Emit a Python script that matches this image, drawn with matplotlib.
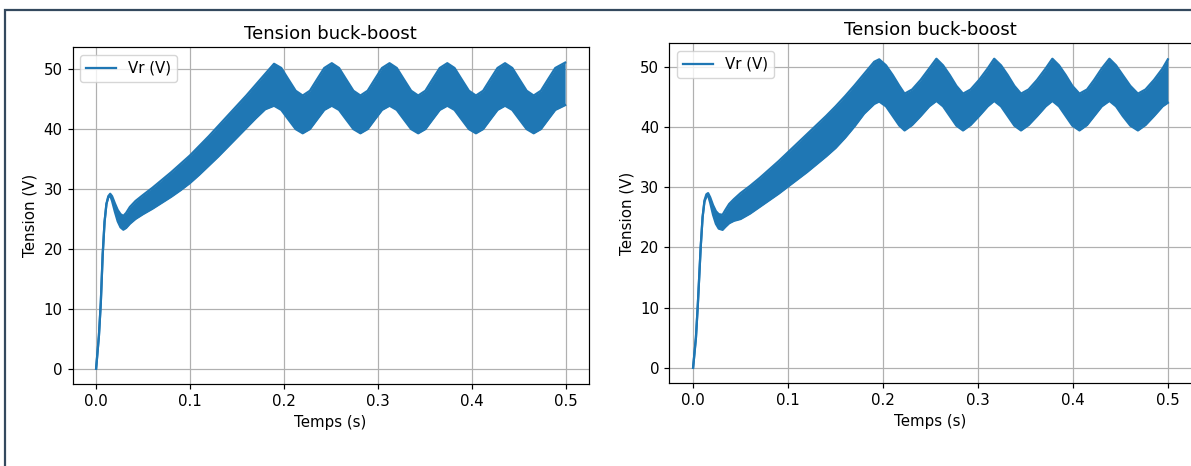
import matplotlib
matplotlib.use("Agg")
import matplotlib.pyplot as plt
from matplotlib.patches import Rectangle

# Vr envelope (max / min of the switching ripple), first run
t_a = [0.0, 0.003, 0.005, 0.007, 0.009, 0.011, 0.013, 0.015, 0.017, 0.020,
       0.023, 0.026, 0.029, 0.032, 0.036, 0.042, 0.050, 0.060, 0.070, 0.080,
       0.090, 0.100, 0.110, 0.120, 0.130, 0.140, 0.150, 0.160, 0.170, 0.180,
       0.1895, 0.1972, 0.2048, 0.2125, 0.2200, 0.2277, 0.2353, 0.2430,
       0.2510, 0.2587, 0.2663, 0.2740, 0.2815, 0.2892, 0.2968, 0.3045,
       0.3125, 0.3202, 0.3278, 0.3355, 0.3430, 0.3507, 0.3583, 0.3660,
       0.3740, 0.3817, 0.3893, 0.3970, 0.4045, 0.4122, 0.4198, 0.4275,
       0.4355, 0.4432, 0.4508, 0.4585, 0.4660, 0.4737, 0.4813, 0.4890,
       0.4995]
vmax_a = [0.0, 5.5, 11.0, 19.0, 24.5, 27.5, 28.8, 29.2, 28.8, 27.6,
          26.5, 25.8, 25.5, 26.0, 27.0, 28.0, 29.0, 30.2, 31.5, 32.8,
          34.2, 35.6, 37.2, 38.8, 40.5, 42.2, 43.9, 45.6, 47.4, 49.2,
          50.9, 50.2, 48.3, 46.4, 45.6, 46.4, 48.3, 50.2,
          51.0, 50.2, 48.3, 46.4, 45.6, 46.4, 48.3, 50.2,
          51.0, 50.2, 48.3, 46.4, 45.6, 46.4, 48.3, 50.2,
          51.0, 50.2, 48.3, 46.4, 45.6, 46.4, 48.3, 50.2,
          51.0, 50.2, 48.3, 46.4, 45.6, 46.4, 48.3, 50.2,
          51.1]
vmin_a = [0.0, 5.5, 11.0, 19.0, 24.5, 27.5, 28.6, 28.9, 28.0, 26.2,
          24.6, 23.6, 23.2, 23.5, 24.2, 25.0, 25.8, 26.7, 27.7, 28.7,
          29.8, 31.0, 32.4, 33.9, 35.4, 37.0, 38.6, 40.2, 41.8, 43.3,
          43.9, 43.2, 41.6, 40.0, 39.3, 40.0, 41.6, 43.2,
          43.9, 43.2, 41.6, 40.0, 39.3, 40.0, 41.6, 43.2,
          43.9, 43.2, 41.6, 40.0, 39.3, 40.0, 41.6, 43.2,
          43.9, 43.2, 41.6, 40.0, 39.3, 40.0, 41.6, 43.2,
          43.9, 43.2, 41.6, 40.0, 39.3, 40.0, 41.6, 43.2,
          44.0]

# second run
t_b = [0.0, 0.003, 0.005, 0.008, 0.010, 0.012, 0.014, 0.0158, 0.018, 0.021,
       0.024, 0.027, 0.031, 0.034, 0.038, 0.043, 0.050, 0.060, 0.070, 0.080,
       0.090, 0.100, 0.110, 0.120, 0.130, 0.140, 0.150, 0.160, 0.170, 0.180,
       0.1906, 0.1958, 0.203, 0.210, 0.217, 0.2225, 0.2305, 0.2395, 0.2485,
       0.2560, 0.263, 0.270, 0.277, 0.2840, 0.292, 0.301, 0.310,
       0.3168, 0.324, 0.331, 0.338, 0.3450, 0.353, 0.362, 0.371,
       0.3780, 0.385, 0.392, 0.399, 0.4065, 0.4145, 0.422, 0.430,
       0.4380, 0.445, 0.452, 0.460, 0.4680, 0.476, 0.485, 0.494,
       0.4995]
vmax_b = [0.0, 5.0, 10.5, 20.0, 25.0, 27.8, 28.8, 29.0, 28.3, 27.0,
          26.0, 25.5, 25.4, 26.2, 27.2, 28.0, 29.0, 30.2, 31.5, 32.9,
          34.3, 35.8, 37.3, 38.8, 40.3, 41.8, 43.4, 45.1, 46.9, 48.8,
          50.8, 51.2, 50.2, 48.6, 46.8, 45.5, 46.2, 47.8, 49.7,
          51.3, 50.2, 48.6, 46.8, 45.5, 46.2, 47.8, 49.7,
          51.3, 50.2, 48.6, 46.8, 45.5, 46.2, 47.8, 49.7,
          51.3, 50.2, 48.6, 46.8, 45.5, 46.2, 47.8, 49.7,
          51.3, 50.2, 48.6, 46.8, 45.5, 46.2, 47.8, 49.7,
          51.2]
vmin_b = [0.0, 5.0, 10.5, 20.0, 25.0, 27.6, 28.4, 28.6, 27.4, 25.4,
          23.9, 23.1, 22.9, 23.4, 24.0, 24.4, 24.7, 25.6, 26.7, 27.8,
          28.9, 30.1, 31.3, 32.5, 33.8, 35.1, 36.5, 38.2, 40.1, 42.2,
          43.8, 44.2, 43.4, 41.8, 40.2, 39.4, 40.3, 41.8, 43.4,
          44.3, 43.4, 41.8, 40.2, 39.4, 40.3, 41.8, 43.4,
          44.3, 43.4, 41.8, 40.2, 39.4, 40.3, 41.8, 43.4,
          44.3, 43.4, 41.8, 40.2, 39.4, 40.3, 41.8, 43.4,
          44.3, 43.4, 41.8, 40.2, 39.4, 40.3, 41.8, 43.4,
          44.0]

S = 1.08
plt.rcParams['font.size'] = 10 * S
plt.rcParams['lines.linewidth'] = 1.5 * S
plt.rcParams['axes.linewidth'] = 0.8 * S
plt.rcParams['grid.linewidth'] = 0.8 * S
plt.rcParams['xtick.major.size'] = 3.5 * S
plt.rcParams['ytick.major.size'] = 3.5 * S
plt.rcParams['xtick.major.width'] = 0.8 * S
plt.rcParams['ytick.major.width'] = 0.8 * S

BLUE = '#1f77b4'

fig = plt.figure(figsize=(11.91, 4.66), dpi=100)
ax1 = fig.add_axes([0.0610, 0.1760, 0.4332, 0.7225])
ax2 = fig.add_axes([0.5620, 0.1775, 0.4385, 0.7296])

for ax, t, vmax, vmin in ((ax1, t_a, vmax_a, vmin_a), (ax2, t_b, vmax_b, vmin_b)):
    # band of the ripple, drawn above the grid like the plotted line would be
    ax.fill_between(t, vmin, vmax, color=BLUE, lw=0, zorder=2)
    ax.plot(t, vmax, color=BLUE, label='Vr (V)', zorder=2)
    ax.plot(t, vmin, color=BLUE, zorder=2)
    ax.set_title('Tension buck-boost')
    ax.set_xlabel('Temps (s)')
    ax.set_ylabel('Tension (V)')
    ax.grid(True)
    ax.legend(loc='upper left')

# border of the output cell
fig.add_artist(Rectangle((4.5 / 1191, -0.2), 1.2, 1.2 - 9.5 / 466,
                         transform=fig.transFigure, fill=False,
                         edgecolor='#34495e', lw=1.6))

fig.savefig('out.png', dpi=100)
